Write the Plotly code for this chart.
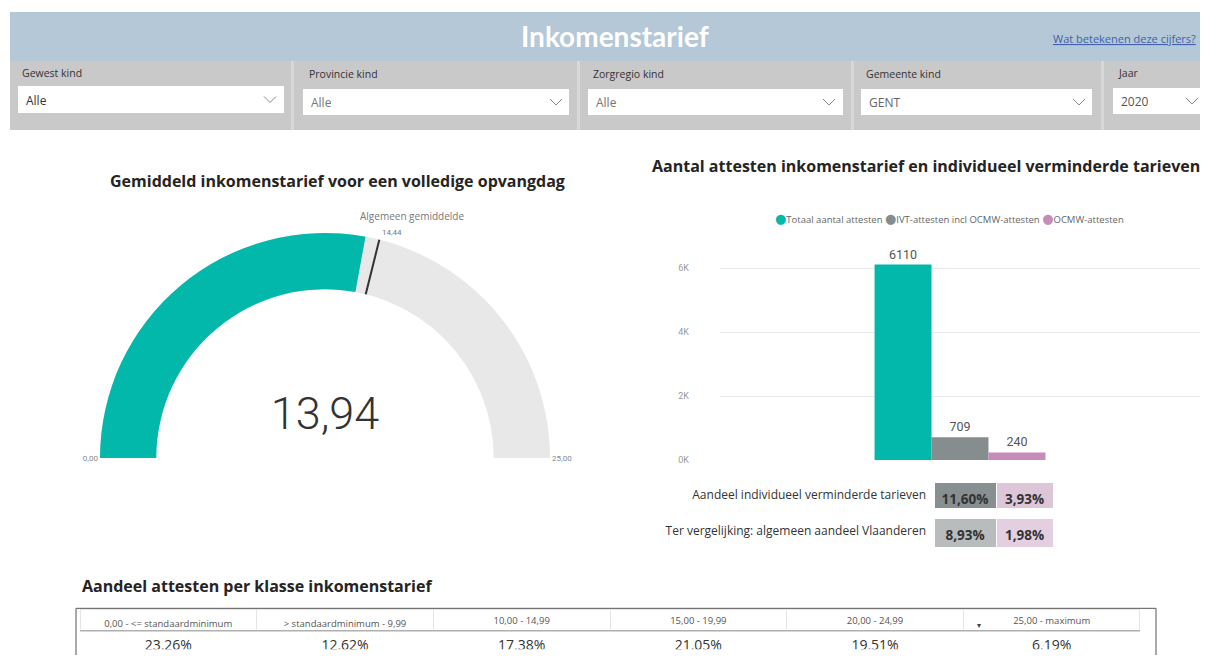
import plotly.graph_objects as go

# page is 1208x663; the html body adds an 8px margin, so the figure is 16px smaller
OFF = 8
W, H = 1208 - 2 * OFF, 663 - 2 * OFF
VS = 1.008  # small vertical correction observed in the rendered page


def X(px):
    return max(0.0, min(1.0, (px - OFF) / W))


def Yraw(py):
    return max(0.0, min(1.0, 1 - (py - OFF) / H))


def Y(py):
    return Yraw(12 + (py - 12) * VS)


# ---------------- data ----------------
page_title = "Inkomenstarief"
link_text = "Wat betekenen deze cijfers?"

filter_labels = ["Gewest kind", "Provincie kind", "Zorgregio kind", "Gemeente kind", "Jaar"]
filter_values = ["Alle", "Alle", "Alle", "GENT", "2020"]

gauge_title = "Gemiddeld inkomenstarief voor een volledige opvangdag"
gauge_value = 13.94
gauge_min = 0
gauge_max = 25
gauge_target = 14.44
gauge_target_label = "Algemeen gemiddelde"

bar_title = "Aantal attesten inkomenstarief en individueel verminderde tarieven"
bar_series = ["Totaal aantal attesten", "IVT-attesten incl OCMW-attesten", "OCMW-attesten"]
bar_values = [6110, 709, 240]
bar_colors = ["#01B8AA", "#858D8F", "#C58BB9"]
y_tickvals = [0, 2000, 4000, 6000]
y_ticktext = ["0K", "2K", "4K", "6K"]

share_labels = ["Aandeel individueel verminderde tarieven", "Ter vergelijking: algemeen aandeel Vlaanderen"]
share_ivt = [11.60, 8.93]
share_ocmw = [3.93, 1.98]

table_title = "Aandeel attesten per klasse inkomenstarief"
class_labels = ["0,00 - <= standaardminimum", "> standaardminimum - 9,99", "10,00 - 14,99",
                "15,00 - 19,99", "20,00 - 24,99", "25,00 - maximum"]
class_shares = [23.26, 12.62, 17.38, 21.05, 19.51, 6.19]


def pct(v):
    return f"{v:.2f}%".replace(".", ",")


def num(v):
    return f"{v:.2f}".replace(".", ",")


fig = go.Figure()
shapes = []
annotations = []


def note(text, px, py, size, color, family="Open Sans", xanchor="center", weight=None, yfun=Y):
    f = dict(family=family, size=size, color=color)
    if weight is not None:
        f["weight"] = weight
    annotations.append(dict(text=text, x=X(px), y=yfun(py), xref="paper", yref="paper",
                            xanchor=xanchor, yanchor="middle", showarrow=False, font=f))


# ---------------- header ----------------
shapes.append(dict(type="rect", xref="paper", yref="paper", x0=X(10), x1=X(1208), y0=Y(61), y1=Y(12),
                   fillcolor="#B4C8D8", line=dict(width=0), layer="below"))
note(f"<b>{page_title}</b>", 615, 36, 28, "white", family="Lato", weight=900)
note(f"<u>{link_text}</u>", 1051, 39, 11, "#3F61A8", xanchor="left")

# ---------------- filter row ----------------
shapes.append(dict(type="rect", xref="paper", yref="paper", x0=X(10), x1=X(1208), y0=Y(130), y1=Y(61),
                   fillcolor="#C9C9C9", line=dict(width=0), layer="below"))
for sx in [292.5, 578.5, 852.5, 1102.5]:
    shapes.append(dict(type="line", xref="paper", yref="paper", x0=X(sx), x1=X(sx), y0=Y(130), y1=Y(61),
                       line=dict(color="#D8D8D8", width=3), layer="below"))

label_x = [20, 307, 591, 864, 1116]
label_y = [73, 74, 74, 74, 73]
box_x0 = [18, 303, 588, 861, 1113]
box_x1 = [284, 569, 843, 1092, 1208]
box_y0 = [86, 89, 89, 89, 88]
box_y1 = [113, 115, 115, 115, 114]
chev_x = [270, 556, 829, 1079, 1192]
value_colors = ["#333333", "#777777", "#777777", "#666666", "#555555"]
for i in range(5):
    note(filter_labels[i], label_x[i], label_y[i], 10.5, "#333333", xanchor="left")
    shapes.append(dict(type="rect", xref="paper", yref="paper", x0=X(box_x0[i]), x1=X(box_x1[i]),
                       y0=Y(box_y1[i]), y1=Y(box_y0[i]), fillcolor="white", line=dict(width=0), layer="below"))
    cy = (box_y0[i] + box_y1[i]) / 2
    note(filter_values[i], box_x0[i] + 6, cy + 1, 12, value_colors[i], xanchor="left")
    cx = chev_x[i]
    shapes.append(dict(type="path", xref="paper", yref="paper",
                       path=f"M {X(cx-6)} {Y(cy-3)} L {X(cx)} {Y(cy+3)} L {X(cx+6)} {Y(cy-3)}",
                       line=dict(color="#888888", width=1)))

# ---------------- gauge ----------------
note(f"<b>{gauge_title}</b>", 337, 181, 16, "#252423")
fig.add_trace(go.Indicator(
    mode="gauge",
    value=gauge_value,
    domain=dict(x=[X(100), X(550)], y=[Y(458), Y(233)]),
    gauge=dict(
        shape="angular",
        axis=dict(range=[gauge_min, gauge_max], tickvals=[gauge_min, gauge_max], tickformat=".2f",
                  ticks="", tickfont=dict(family="Roboto", size=8, color="#888888")),
        bar=dict(color="#01B8AA", thickness=1, line=dict(width=0)),
        bgcolor="#E8E8E8",
        borderwidth=0,
        threshold=dict(line=dict(color="#333333", width=2), thickness=1, value=gauge_target),
    ),
))
fig.add_trace(go.Indicator(
    mode="number",
    value=gauge_value,
    number=dict(valueformat=".2f", font=dict(family="Roboto", size=45, color="#333333", weight=300)),
    domain=dict(x=[X(220), X(430)], y=[Y(440), Y(386)]),
))
note(gauge_target_label, 412, 216, 10, "#777777")
note(num(gauge_target), 392, 232, 8, "#777777", family="Roboto")

# ---------------- bar chart ----------------
note(f"<b>{bar_title}</b>", 926, 166, 16, "#252423")
for name, val, col in zip(bar_series, bar_values, bar_colors):
    fig.add_trace(go.Bar(x=["A"], y=[val], name=name, marker=dict(color=col, line=dict(width=0)),
                         text=[str(val)], textposition="outside", cliponaxis=False,
                         textfont=dict(family="Roboto", size=12.5, color="#555555"),
                         showlegend=False, hoverinfo="skip"))

legend_text = "".join(
    f"<span style='color:{col};font-size:13px;font-family:DejaVu Sans'>●</span>{name} "
    for name, col in zip(bar_series, bar_colors)
).strip()
note(legend_text, 949, 218, 9.5, "#666666")

fig.update_layout(
    barmode="group", bargap=0.644, bargroupgap=0, showlegend=False,
    xaxis=dict(domain=[X(720), X(1200)], showticklabels=False, showgrid=False, zeroline=False,
               showline=False, fixedrange=True),
    yaxis=dict(domain=[Y(460), Y(240)], range=[0, 6875], tickvals=y_tickvals, ticktext=y_ticktext,
               showgrid=True, gridcolor="#EAEAEA", gridwidth=1, zeroline=False, showline=False,
               tickfont=dict(family="Roboto", size=9, color="#999999"), ticklabelstandoff=30),
)

# ---------------- share rows ----------------
row_y = [(482, 508), (518, 547)]
ivt_fill = ["#878F91", "#B8BCBD"]
ocmw_fill = ["#DEC6D9", "#E3CFDF"]
for i in range(2):
    y0, y1 = row_y[i]
    fig.add_trace(go.Table(
        domain=dict(x=[X(650), X(1053)], y=[Y(y1), Y(y0)]),
        columnwidth=[284, 62, 57],
        header=dict(values=[share_labels[i], f"<b>{pct(share_ivt[i])}</b>", f"<b>{pct(share_ocmw[i])}</b>"],
                    fill=dict(color=["white", ivt_fill[i], ocmw_fill[i]]),
                    line=dict(color="white", width=1),
                    align=["right", "center", "center"],
                    height=y1 - y0,
                    font=dict(family="Open Sans", size=[12, 13.5, 13.5], color="#333333")),
        cells=dict(values=[[], [], []]),
    ))

# ---------------- bottom table ----------------
note(f"<b>{table_title}</b>", 80, 591, 16, "#252423", xanchor="left", yfun=Yraw)
shapes.append(dict(type="rect", xref="paper", yref="paper", x0=X(76), x1=X(1156), y0=-0.05, y1=Yraw(613),
                   fillcolor="rgba(0,0,0,0)", line=dict(color="#555555", width=1)))
fig.add_trace(go.Table(
    domain=dict(x=[X(80), X(1140)], y=[Yraw(635), Yraw(614)]),
    columnwidth=[1] * len(class_labels),
    header=dict(values=class_labels, fill=dict(color="white"), line=dict(color="#E4E4E4", width=1),
                align="center", height=21, font=dict(family="Open Sans", size=9.5, color="#555555")),
    cells=dict(values=[[] for _ in class_labels]),
))
fig.add_trace(go.Table(
    domain=dict(x=[X(80), X(1140)], y=[Yraw(663), Yraw(636)]),
    columnwidth=[1] * len(class_labels),
    header=dict(values=[pct(v) for v in class_shares], fill=dict(color="white"),
                line=dict(color="white", width=1),
                align="center", height=20, font=dict(family="Open Sans", size=14, color="#333333")),
    cells=dict(values=[[] for _ in class_labels]),
))
shapes.append(dict(type="line", xref="paper", yref="paper", x0=X(80), x1=X(1140), y0=Yraw(635.5), y1=Yraw(635.5),
                   line=dict(color="#B0B0B0", width=1.5)))
note("▾", 979, 630, 8, "#444444", family="DejaVu Sans", yfun=Yraw)

fig.update_layout(
    width=W, height=H, autosize=False,
    margin=dict(l=0, r=0, t=0, b=0),
    paper_bgcolor="white", plot_bgcolor="white",
    separators=",.",
    shapes=shapes, annotations=annotations,
    font=dict(family="Open Sans"),
)

fig.write_html("out.html")
